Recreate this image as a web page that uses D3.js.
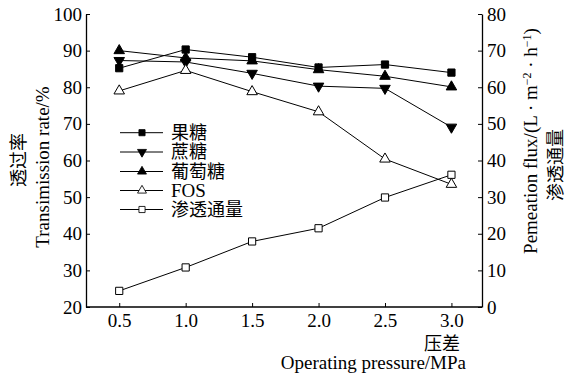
<!DOCTYPE html>
<html><head><meta charset="utf-8">
<script src="https://cdn.jsdelivr.net/npm/d3@7"></script>
<style>
body{margin:0;background:#fff;}
svg{display:block;}
text{font-family:"Liberation Serif","Times New Roman",serif;fill:#000;}
.cjk{font-family:"Noto Sans CJK SC",sans-serif;font-weight:400;}
</style></head>
<body><svg id="c" width="567" height="377"></svg>
<script>
const pressures = [0.5, 1.0, 1.5, 2.0, 2.5, 3.0];
const fructose = [85.2, 90.3, 88.2, 85.4, 86.2, 84.0];
const sucrose  = [87.3, 86.9, 83.8, 80.3, 79.7, 69.1];
const glucose  = [90.0, 88.0, 87.2, 84.8, 83.0, 80.1];
const fos      = [79.0, 84.6, 78.8, 73.3, 60.4, 53.5];
const flux     = [4.4, 10.8, 17.9, 21.5, 29.9, 36.1];
const leftTicks = [20, 30, 40, 50, 60, 70, 80, 90, 100];
const rightTicks = [0, 10, 20, 30, 40, 50, 60, 70, 80];
const legendNames = ["果糖", "蔗糖", "葡萄糖", "FOS", "渗透通量"];

const svg = d3.select("#c");
const L = 86, R = 482, T = 14, B = 307;
const x = d3.scaleLinear().domain([0.25, 3.23]).range([L, R]);
const yL = d3.scaleLinear().domain([20, 100]).range([B, T]);
const yR = d3.scaleLinear().domain([0, 80]).range([B, T]);

const series = [
  {vals: fructose, sym: "sq", fill: "#000", y: yL},
  {vals: sucrose, sym: "down", fill: "#000", y: yL},
  {vals: glucose, sym: "up", fill: "#000", y: yL},
  {vals: fos, sym: "up", fill: "#fff", y: yL},
  {vals: flux, sym: "sq", fill: "#fff", y: yR}
];

function symPath(kind) {
  if (kind === "sq") return d3.symbol(d3.symbolSquare, 52)();
  return d3.symbol(d3.symbolTriangle, 48)();
}

const fs = 19;
const axL = svg.append("g").attr("transform", `translate(${L},0)`)
  .call(d3.axisLeft(yL).tickValues(leftTicks).tickSizeInner(-4).tickSizeOuter(0).tickPadding(4));
const axR = svg.append("g").attr("transform", `translate(${R},0)`)
  .call(d3.axisRight(yR).tickValues(rightTicks).tickSizeInner(-4).tickSizeOuter(0).tickPadding(5));
const axB = svg.append("g").attr("transform", `translate(0,${B})`)
  .call(d3.axisBottom(x).tickValues(pressures).tickFormat(d3.format(".1f")).tickSizeInner(-4).tickSizeOuter(0).tickPadding(7));
[axL, axR, axB].forEach(g => {
  g.selectAll("path.domain").attr("stroke", "#000").attr("stroke-width", 1.3);
  g.selectAll(".tick line").attr("stroke", "#000").attr("stroke-width", 1);
  g.selectAll("text").attr("font-family", "Liberation Serif, serif").attr("font-size", fs).attr("fill", "#000");
});
axB.select("path.domain").attr("d", `M${L},0H${R}`);

const plot = svg.append("g");
series.forEach(s => {
  const line = d3.line().x((d, i) => x(pressures[i])).y(d => s.y(d));
  plot.append("path").datum(s.vals).attr("d", line)
    .attr("fill", "none").attr("stroke", "#000").attr("stroke-width", 1);
  plot.selectAll(null).data(s.vals).enter().append("path")
    .attr("d", symPath(s.sym))
    .attr("transform", (d, i) => `translate(${x(pressures[i])},${s.y(d)})` + (s.sym === "down" ? " rotate(180)" : ""))
    .attr("fill", s.fill).attr("stroke", "#000").attr("stroke-width", 1);
});

const legY = [132.7, 152, 171.5, 190.5, 209.5];
series.forEach((s, i) => {
  const g = svg.append("g").attr("transform", `translate(0,${legY[i]})`);
  g.append("line").attr("x1", 120).attr("x2", 163).attr("y1", 0).attr("y2", 0)
    .attr("stroke", "#000").attr("stroke-width", 1);
  g.append("path").attr("d", symPath(s.sym))
    .attr("transform", `translate(142,0) scale(0.85)` + (s.sym === "down" ? " rotate(180)" : ""))
    .attr("fill", s.fill).attr("stroke", "#000").attr("stroke-width", 1);
  g.append("text").attr("x", 171).attr("y", 0).attr("dy", "0.36em")
    .attr("class", legendNames[i] === "FOS" ? "" : "cjk")
    .attr("font-size", legendNames[i] === "FOS" ? 19 : 18).text(legendNames[i]);
});

svg.append("text").attr("class", "cjk").attr("font-size", 18)
  .attr("text-anchor", "middle")
  .attr("transform", "translate(25,160) rotate(-90)").text("透过率");
svg.append("text").attr("font-size", fs).attr("text-anchor", "middle")
  .attr("transform", "translate(49,167) rotate(-90)").text("Transimission rate/%");

const rt = svg.append("text").attr("font-size", fs).attr("text-anchor", "middle")
  .attr("transform", "translate(537,141) rotate(-90)");
rt.append("tspan").text("Pemeation flux/(L · m");
rt.append("tspan").attr("dy", -6).attr("font-size", 12).text("−2");
rt.append("tspan").attr("dy", 6).text(" · h");
rt.append("tspan").attr("dy", -6).attr("font-size", 12).text("−1");
rt.append("tspan").attr("dy", 6).text(")");
svg.append("text").attr("class", "cjk").attr("font-size", 18).attr("text-anchor", "middle")
  .attr("transform", "translate(562,165) rotate(-90)").text("渗透通量");

svg.append("text").attr("class", "cjk").attr("font-size", 18).attr("text-anchor", "end")
  .attr("x", 460).attr("y", 350).text("压差");
svg.append("text").attr("font-size", fs).attr("text-anchor", "end")
  .attr("x", 466).attr("y", 369).text("Operating pressure/MPa");
</script></body></html>
